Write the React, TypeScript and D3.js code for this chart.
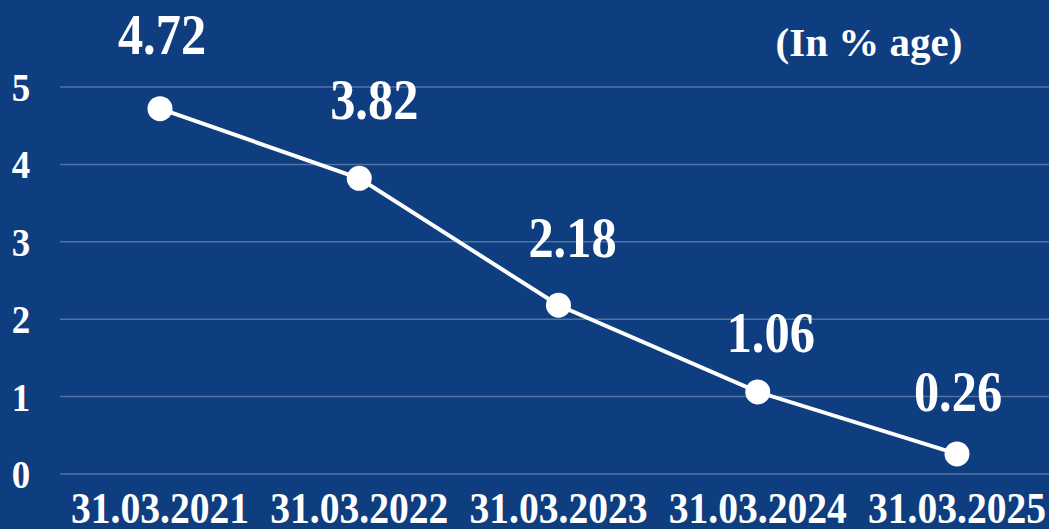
import React from "react";
import * as d3 from "d3";

const categories = ["31.03.2021", "31.03.2022", "31.03.2023", "31.03.2024", "31.03.2025"];
const values = [4.72, 3.82, 2.18, 1.06, 0.26];
const yTicks = [0, 1, 2, 3, 4, 5];
const unitLabel = "(In % age)";

// label offsets (layout only)
const labelDx = [2, 15, 14, 13, 1];
const labelDy = [-55, -59, -48, -40, -43];

const W = 1049;
const H = 529;
const BG = "#0e3d80";
const FONT = "'Liberation Serif', 'Times New Roman', serif";
const SX = 0.9;

export default function App() {
  const x = d3.scalePoint<string>().domain(categories).range([160, 957]);
  const y = d3.scaleLinear().domain([0, 5]).range([474, 87]);
  const line = d3
    .line<number>()
    .x((_, i) => x(categories[i]) as number)
    .y((d) => y(d));

  return (
    <svg
      width={W}
      height={H}
      style={{ position: "absolute", left: 0, top: 0, display: "block" }}
    >
      <rect x={0} y={0} width={W} height={H} fill={BG} />
      {yTicks.map((t) => (
        <g key={t}>
          <line
            x1={60}
            x2={W}
            y1={y(t)}
            y2={y(t)}
            stroke="rgba(255,255,255,0.28)"
            strokeWidth={1.5}
          />
          <text
            transform={`translate(21,${y(t) + 14}) scale(${SX},1)`}
            textAnchor="middle"
            fill="#fff"
            fontFamily={FONT}
            fontWeight="bold"
            fontSize={41}
          >
            {t}
          </text>
        </g>
      ))}
      {categories.map((c) => (
        <text
          key={c}
          transform={`translate(${x(c)},523) scale(${SX},1)`}
          textAnchor="middle"
          fill="#fff"
          fontFamily={FONT}
          fontWeight="bold"
          fontSize={44}
        >
          {c}
        </text>
      ))}
      <path d={line(values) || ""} fill="none" stroke="#fff" strokeWidth={4} />
      {values.map((v, i) => (
        <g key={i}>
          <circle cx={x(categories[i])} cy={y(v)} r={12.5} fill="#fff" />
          <text
            transform={`translate(${(x(categories[i]) as number) + labelDx[i]},${y(v) + labelDy[i]}) scale(${SX},1)`}
            textAnchor="middle"
            fill="#fff"
            fontFamily={FONT}
            fontWeight="bold"
            fontSize={56}
          >
            {v.toFixed(2)}
          </text>
        </g>
      ))}
      <text
        x={869}
        y={56}
        textAnchor="middle"
        fill="#fff"
        fontFamily={FONT}
        fontWeight="bold"
        fontSize={41}
      >
        {unitLabel}
      </text>
    </svg>
  );
}
